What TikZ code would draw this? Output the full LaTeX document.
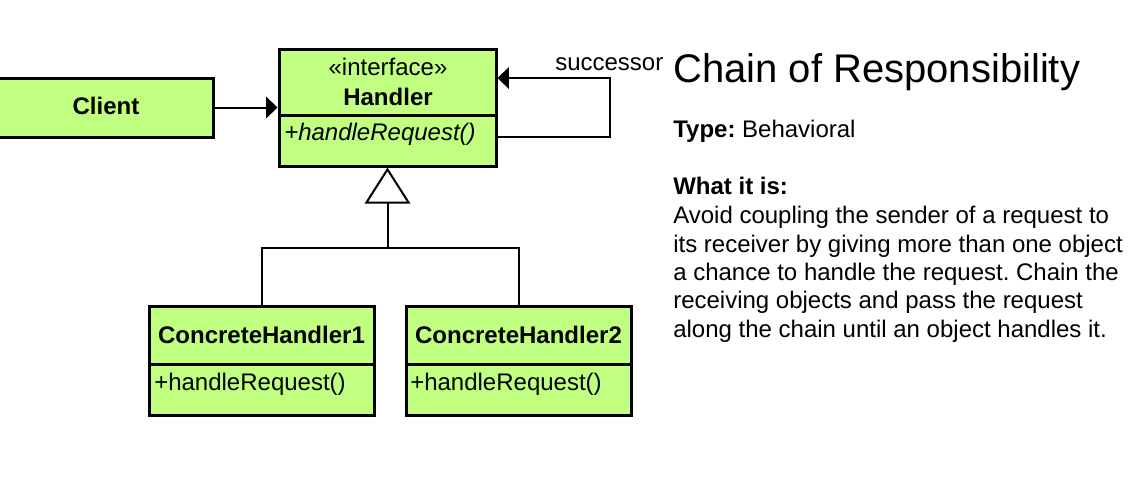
\documentclass[tikz,border=0pt]{standalone}
\usepackage{fontspec}
\setmainfont{Liberation Sans}
\usetikzlibrary{arrows.meta}
\frenchspacing
\definecolor{umlgreen}{RGB}{192,255,128}
\tikzset{
  umlbox/.style={draw=black, fill=umlgreen, line width=2.25pt, inner sep=0pt, anchor=center},
  divider/.style={line width=2.25pt},
  conn/.style={line width=1.5pt},
  assoc/.style={conn, -{Triangle[length=8.5pt, width=16pt]}},
  gen/.style={conn, -{Triangle[open, length=27pt, width=34pt, line width=1.5pt]}},
  lbl/.style={inner sep=0pt, font=\fontsize{18}{21.4}\selectfont},
  btxt/.style={lbl, anchor=base west},
}
\begin{document}
\begin{tikzpicture}[x=0.75pt, y=-0.75pt]
\useasboundingbox (0,0) rectangle (1134,494);
% boxes
\node[umlbox, minimum width=161.25pt, minimum height=44.25pt] (client) at (105.5,107.5) {};
\node[umlbox, minimum width=162.75pt, minimum height=87.75pt] (handler) at (387.5,107.5) {};
\node[umlbox, minimum width=168.75pt, minimum height=81.75pt] (ch1) at (261.5,360.5) {};
\node[umlbox, minimum width=168.75pt, minimum height=81.75pt] (ch2) at (518.5,360.5) {};
% dividers
\coordinate (hd) at (0,115);
\coordinate (cd) at (0,364);
\draw[divider] (handler.west |- hd) -- (handler.east |- hd);
\draw[divider] (ch1.west |- cd) -- (ch1.east |- cd);
\draw[divider] (ch2.west |- cd) -- (ch2.east |- cd);
% box texts
\node[lbl, anchor=base, font=\fontsize{18}{21.4}\selectfont\bfseries] (tclient) at (106,114) {Client};
\node[lbl, anchor=base] (tstereo) at (388,75) {«interface»};
\node[lbl, anchor=base, font=\fontsize{18}{21.4}\selectfont\bfseries] (thandler) at (388,105) {Handler};
\node[btxt, font=\fontsize{18}{21.4}\selectfont\itshape] (thm) at (284,140) {+handleRequest()};
\node[lbl, anchor=base, font=\fontsize{18}{21.4}\selectfont\bfseries] (tch1) at (261.5,343) {ConcreteHandler1};
\node[lbl, anchor=base, font=\fontsize{18}{21.4}\selectfont\bfseries] (tch2) at (518.5,343) {ConcreteHandler2};
\node[btxt] (tm1) at (154,390) {+handleRequest()};
\node[btxt] (tm2) at (410,390) {+handleRequest()};
% connectors
\draw[assoc] (client.east) -- (handler.west);
\coordinate (lp1) at (610,137);
\coordinate (lp2) at (610,78);
\draw[assoc] (handler.east |- lp1) -- (lp1) -- (lp2) -- (handler.east |- lp2);
\node[btxt] (succ) at (555,70) {successor};
\coordinate (j) at (387.5,248);
\draw[conn] (ch1.north) |- (j) -| (ch2.north);
\draw[gen] (j) -- (handler.south);
% description
\node[btxt, font=\fontsize{30}{36}\selectfont] (title) at (673,82) {Chain of Responsibility};
\node[btxt] (type) at (673,137) {\textbf{Type:} Behavioral};
\node[btxt, font=\fontsize{18}{21.4}\selectfont\bfseries] (what) at (673,194) {What it is:};
\node[btxt] (l1) at (673,223) {Avoid coupling the sender of a request to};
\node[btxt] (l2) at (673,252) {its receiver by giving more than one object};
\node[btxt] (l3) at (673,280) {a chance to handle the request. Chain the};
\node[btxt] (l4) at (673,308) {receiving objects and pass the request};
\node[btxt] (l5) at (673,337) {along the chain until an object handles it.};
\end{tikzpicture}
\end{document}
